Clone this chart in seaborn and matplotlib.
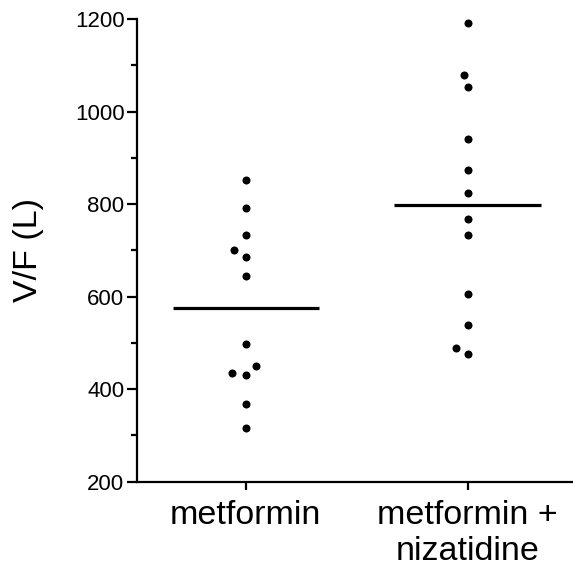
import numpy as np
import pandas as pd
import seaborn as sns
import matplotlib
matplotlib.use("Agg")
import matplotlib.pyplot as plt
from matplotlib.ticker import FixedLocator, MultipleLocator

groups = ["metformin", "metformin +\nnizatidine"]
metformin = [851, 792, 734, 701, 686, 645, 498, 449, 434, 431, 369, 317]
metformin_nizatidine = [1192, 1079, 1052, 941, 874, 824, 767, 733, 606, 539, 490, 476]
y_ticks = [200, 400, 600, 800, 1000, 1200]

df = pd.DataFrame({
    "group": [groups[0]] * len(metformin) + [groups[1]] * len(metformin_nizatidine),
    "vf": metformin + metformin_nizatidine,
})

sns.set_style("ticks")
plt.rcParams['font.family'] = ['Liberation Sans', 'DejaVu Sans']
plt.rcParams.update({"text.color": "black", "axes.labelcolor": "black",
                     "xtick.color": "black", "ytick.color": "black",
                     "xtick.labelcolor": "black", "ytick.labelcolor": "black"})

fig = plt.figure(figsize=(5.73, 5.76), dpi=100)
ax = fig.add_axes([137 / 573, 1 - 481.7 / 576, 1 - 137 / 573, (481.7 - 19) / 576])

sns.boxplot(data=df, x="group", y="vf", order=groups, width=0.66,
            showmeans=True, meanline=True, showbox=False, showcaps=False,
            showfliers=False, whis=0,
            meanprops=dict(color="black", linestyle="-", linewidth=2.3),
            medianprops=dict(visible=False),
            whiskerprops=dict(visible=False),
            ax=ax)
sns.swarmplot(data=df, x="group", y="vf", order=groups, color="black",
              size=7.6, edgecolor="white", linewidth=1.8, ax=ax)

ax.set_ylim(200, 1200)
ax.set_xlim(-0.49, 1.475)
ax.yaxis.set_major_locator(FixedLocator(y_ticks))
ax.yaxis.set_minor_locator(MultipleLocator(100))
for s in ["top", "right"]:
    ax.spines[s].set_visible(False)
for s in ["left", "bottom"]:
    ax.spines[s].set_linewidth(1.6)
    ax.spines[s].set_color("black")
ax.tick_params(axis="y", which="major", length=7, width=1.6, labelsize=16, pad=2, color="black", labelcolor="black")
ax.tick_params(axis="y", which="minor", length=4, width=1.6, color="black")
ax.tick_params(axis="x", which="major", length=6, width=1.6, labelsize=24.5, pad=7, color="black", labelcolor="black")
ax.set_xlabel("")
ax.set_ylabel("V/F (L)", fontsize=24.5, labelpad=22, color="black")

fig.savefig("out.png", dpi=100)
